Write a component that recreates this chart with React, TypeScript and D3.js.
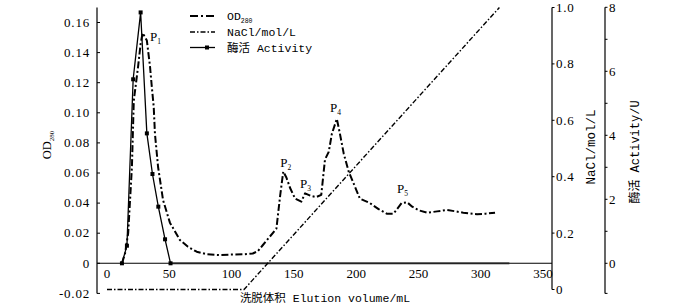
import React from "react";
import * as d3 from "d3";

// ---- data ----
const odVolume = [12, 14.5, 17, 20, 21.5, 25, 27, 28.6, 32, 34.5, 36, 37.5, 38.5, 41, 45, 50.5, 58.5, 65, 72, 80, 90, 100, 110, 117, 121, 125, 130, 136, 139, 141.5, 144, 147, 151, 156, 159, 164, 168, 172, 175, 178, 180.5, 184.5, 187, 190, 194, 199, 203, 211, 218, 224.5, 230, 236.5, 241, 245, 251, 257, 265, 273, 280, 286, 297, 304, 311.5];
const odValue = [0, 0.0066, 0.02, 0.064, 0.108, 0.131, 0.146, 0.153, 0.148, 0.131, 0.117, 0.104, 0.086, 0.064, 0.042, 0.027, 0.0155, 0.011, 0.0077, 0.006, 0.0055, 0.0058, 0.006, 0.0065, 0.008, 0.012, 0.017, 0.023, 0.045, 0.061, 0.057, 0.05, 0.043, 0.041, 0.0465, 0.0447, 0.044, 0.0455, 0.069, 0.074, 0.086, 0.096, 0.086, 0.073, 0.061, 0.051, 0.043, 0.04, 0.036, 0.033, 0.033, 0.04, 0.0405, 0.0376, 0.035, 0.0336, 0.0345, 0.0354, 0.0345, 0.0336, 0.0326, 0.033, 0.0336];

const naclVolume = [0, 110, 315];
const naclValue = [0, 0, 1.0];

const actVolume = [12, 16, 21, 27, 32, 36.5, 41.2, 46.6, 51];
const actValue = [0, 0.55, 5.75, 7.84, 4.06, 2.79, 1.77, 0.75, 0];
const actZeroVolume = [51, 323];

const xTicks = [0, 50, 100, 150, 200, 250, 300, 350];
const odTicks = [-0.02, 0, 0.02, 0.04, 0.06, 0.08, 0.1, 0.12, 0.14, 0.16];
const odTickLabels = ["-0.02", "0", "0.02", "0.04", "0.06", "0.08", "0.10", "0.12", "0.14", "0.16"];
const naclTicks = [0, 0.2, 0.4, 0.6, 0.8, 1.0];
const naclTickLabels = ["0", "0.2", "0.4", "0.6", "0.8", "1.0"];
const actTicks = [0, 1, 2, 3, 4, 5, 6, 7, 8];

const peakLabels = [
  { v: 34.5, od: 0.148, n: "1" },
  { v: 139, od: 0.064, n: "2" },
  { v: 155, od: 0.05, n: "3" },
  { v: 179, od: 0.1005, n: "4" },
  { v: 232.8, od: 0.047, n: "5" },
];

const serif = "'Liberation Serif', 'Times New Roman', 'DejaVu Serif', serif";
const mono = "'Liberation Mono', 'Noto Sans CJK SC', monospace";

export default function App() {
  const W = 700, H = 306;
  const x = d3.scaleLinear().domain([0, 350]).range([107, 543]);
  const yOD = d3.scaleLinear().domain([-0.02, 0.17]).range([293.4, 7.45]);
  const yNa = d3.scaleLinear().domain([0, 1]).range([289.5, 7.5]);
  const yAct = d3.scaleLinear().domain([0, 8]).range([263.3, 7.3]);

  const leftX = 97, rightX = 552, actX = 605;
  const sSerif = { fontFamily: serif };
  const sMono = { fontFamily: mono };

  const odLine = d3.line<number>().x((d, i) => x(odVolume[i])).y((d) => yOD(d));
  const naLine = d3.line<number>().x((d, i) => x(naclVolume[i])).y((d) => yNa(d));
  const actLine = d3.line<number>().x((d, i) => x(actVolume[i])).y((d) => yAct(d));

  const actBottom = yOD(-0.02);

  return (
    <svg width={W} height={H} style={{ position: "absolute", left: 0, top: 0, background: "#fff" }}>
      <rect width={W} height={H} fill="#fff" />
      <line x1={x(actZeroVolume[0])} x2={x(actZeroVolume[1])} y1={yAct(0)} y2={yAct(0)} stroke="#8a8a8a" strokeWidth={2.6} />
      <line x1={leftX} x2={rightX} y1={yOD(0)} y2={yOD(0)} stroke="#000" strokeWidth={1.1} />
      {xTicks.map((t) => (
        <text key={t} x={x(t)} y={278} textAnchor="middle" style={sSerif} fontSize={13} fill="#000">{t}</text>
      ))}
      <text x={325} y={302} textAnchor="middle" style={sMono} fontSize={11.5} fill="#000">洗脱体积 Elution volume/mL</text>

      <line x1={leftX} x2={leftX} y1={yOD(0.17)} y2={yOD(-0.02)} stroke="#000" strokeWidth={1.2} />
      {odTicks.map((t, i) => (
        <g key={t}>
          <line x1={leftX} x2={leftX + 3} y1={yOD(t)} y2={yOD(t)} stroke="#000" />
          <text x={90} y={yOD(t) + 4.2} textAnchor="end" style={sSerif} fontSize={13} letterSpacing={0.8} fill="#000">{odTickLabels[i]}</text>
        </g>
      ))}
      <text transform={`translate(51,145) rotate(-90)`} textAnchor="middle" style={sSerif} fontSize={12.5} fill="#000">
        OD<tspan fontSize={7} dy={3}>280</tspan>
      </text>

      <line x1={rightX} x2={rightX} y1={yNa(1)} y2={yNa(0)} stroke="#000" strokeWidth={1.2} />
      {naclTicks.map((t, i) => (
        <g key={t}>
          <line x1={rightX} x2={rightX + 2.5} y1={yNa(t)} y2={yNa(t)} stroke="#000" />
          <text x={556} y={yNa(t) + 4.5} style={sSerif} fontSize={13} letterSpacing={0.8} fill="#000">{naclTickLabels[i]}</text>
        </g>
      ))}
      <text transform={`translate(595,147) rotate(-90)`} textAnchor="middle" style={sMono} fontSize={12.5} fill="#000">NaCl/mol/L</text>

      <line x1={actX} x2={actX} y1={yAct(8)} y2={actBottom} stroke="#000" strokeWidth={1.2} />
      {actTicks.map((t) => (
        <g key={t}>
          <line x1={actX} x2={actX + 2.5} y1={yAct(t)} y2={yAct(t)} stroke="#000" />
          {t % 2 === 0 && (
            <text x={609} y={yAct(t) + 4.5} style={sSerif} fontSize={13} fill="#000">{t}</text>
          )}
        </g>
      ))}
      <line x1={actX} x2={actX + 2.5} y1={actBottom} y2={actBottom} stroke="#000" />
      <text transform={`translate(639,152) rotate(-90)`} textAnchor="middle" style={sMono} fontSize={12} fill="#000">酶活 Activity/U</text>

      <path d={naLine(naclValue) || ""} fill="none" stroke="#000" strokeWidth={1.4} strokeDasharray="5,2,1.5,2" />
      <path d={odLine(odValue) || ""} fill="none" stroke="#000" strokeWidth={2} strokeDasharray="7,2.5,2,2.5" strokeLinejoin="round" />
      <path d={actLine(actValue) || ""} fill="none" stroke="#000" strokeWidth={1.3} />
      {actValue.map((a, i) => (
        <rect key={i} x={x(actVolume[i]) - 2} y={yAct(a) - 2} width={4} height={4} fill="#000" />
      ))}

      {peakLabels.map((p) => (
        <text key={p.n} x={x(p.v)} y={yOD(p.od)} style={sSerif} fontSize={13} fill="#000">
          P<tspan fontSize={7.5} dy={3}>{p.n}</tspan>
        </text>
      ))}

      <line x1={190} x2={215} y1={16} y2={16} stroke="#000" strokeWidth={2} strokeDasharray="8,3,2,3" />
      <text x={227} y={20} style={sMono} fontSize={11.5} fill="#000">OD<tspan fontSize={6.5} dy={3}>280</tspan></text>
      <line x1={190} x2={215} y1={32} y2={32} stroke="#000" strokeWidth={1.4} strokeDasharray="5,2,1.5,2" />
      <text x={227} y={36} style={sMono} fontSize={11.5} fill="#000">NaCl/mol/L</text>
      <line x1={190} x2={215} y1={47.5} y2={47.5} stroke="#000" strokeWidth={1.3} />
      <rect x={205} y={45.5} width={4} height={4} fill="#000" />
      <text x={227} y={52} style={sMono} fontSize={11.5} fill="#000">酶活 Activity</text>
    </svg>
  );
}
